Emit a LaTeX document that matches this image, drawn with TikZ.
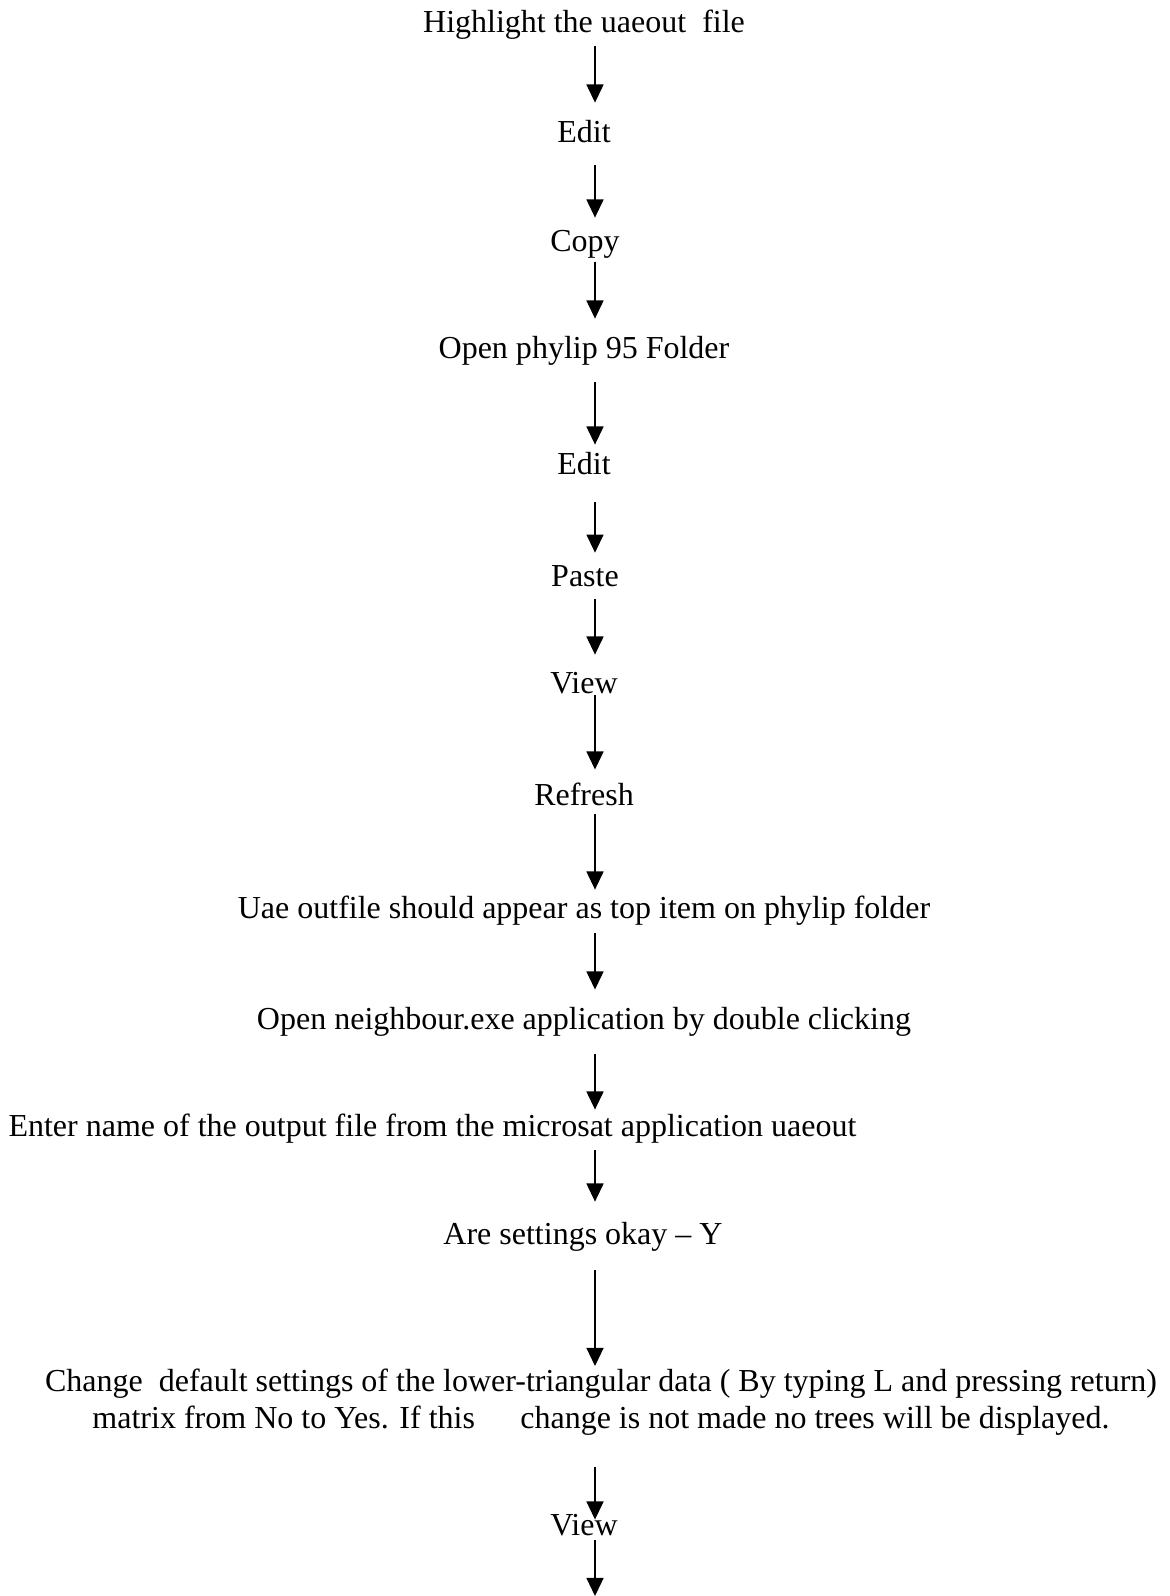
\documentclass[tikz,border=0pt]{standalone}
\usepackage{fontspec}
\setmainfont{Liberation Serif}
\usetikzlibrary{arrows.meta}

\begin{document}
\begin{tikzpicture}[x=0.375pt,y=-0.375pt,>={Triangle[length=6.8pt,width=6.4pt]}]
\tikzset{lbl/.style={inner sep=0pt,anchor=base,font=\fontsize{12}{13.9}\selectfont,text height=8.2pt,text depth=2.6pt},
  lbltwo/.style={inner sep=0pt,anchor=north,align=center,font=\fontsize{12}{13.9}\selectfont},
  flow/.style={->,line width=0.5pt}}
\useasboundingbox (0,0) rectangle (1169,1596);
\coordinate (ax) at (595,0);
\node[lbl] (hl) at (584,33) {Highlight the uaeout\ \ file};
\node[lbl] (ed1) at (584,143) {Edit};
\node[lbl] (cp) at (585,252) {Copy};
\node[lbl] (op) at (584,359) {Open phylip 95 Folder};
\node[lbl] (ed2) at (584,475) {Edit};
\node[lbl] (ps) at (585,586) {Paste};
\node[lbl] (vw1) at (584,693) {View};
\node[lbl] (rf) at (584,805) {Refresh};
\node[lbl] (ua) at (584,918) {Uae outfile should appear as top item on phylip folder};
\node[lbl] (nb) at (584,1029) {Open neighbour.exe application by double clicking};
\node[lbl,anchor=base west] (en) at (8,1136) {Enter name of the output file from the microsat application uaeout};
\node[lbl] (ok) at (583,1244) {Are settings okay -- Y};
\node[lbltwo] (ch) at (601,1368) {Change\ \ default settings of the lower-triangular data ( By typing L and pressing return)\\
  matrix from No to Yes. If this\hspace{14pt} change is not made no trees will be displayed.};
\node[lbl] (vw2) at (584,1535) {View};
\coordinate (end) at (595,1596);
\draw[flow,shorten <=1.9pt,shorten >=6.75pt] (hl.south -| ax) -- (ed1.north -| ax);
\draw[flow,shorten <=5.6pt,shorten >=4.5pt] (ed1.south -| ax) -- (cp.north -| ax);
\draw[flow,shorten <=1.1pt,shorten >=6.75pt] (cp.south -| ax) -- (op.north -| ax);
\draw[flow,shorten <=6pt,shorten >=3pt] (op.south -| ax) -- (ed2.north -| ax);
\draw[flow,shorten <=7.5pt,shorten >=4.1pt] (ed2.south -| ax) -- (ps.north -| ax);
\draw[flow,shorten <=1.9pt,shorten >=6pt] (ps.south -| ax) -- (vw1.north -| ax);
\draw[flow,shorten <=-1.9pt,shorten >=4.9pt] (vw1.south -| ax) -- (rf.north -| ax);
\draw[flow,shorten <=0.4pt,shorten >=2.25pt] (rf.south -| ax) -- (ua.north -| ax);
\draw[flow,shorten <=3pt,shorten >=6.4pt] (ua.south -| ax) -- (nb.north -| ax);
\draw[flow,shorten <=6.4pt,shorten >=1.5pt] (nb.south -| ax) -- (en.north -| ax);
\draw[flow,shorten <=2.6pt,shorten >=7.5pt] (en.south -| ax) -- (ok.north -| ax);
\draw[flow,shorten <=7.1pt,shorten >=0.75pt] (ok.south -| ax) -- (ch.north -| ax);
\draw[flow,shorten <=11.6pt,shorten >=-2.6pt] (ch.south -| ax) -- (vw2.north -| ax);
\draw[flow,shorten <=-0.75pt] (vw2.south -| ax) -- (end);
\end{tikzpicture}
\end{document}
